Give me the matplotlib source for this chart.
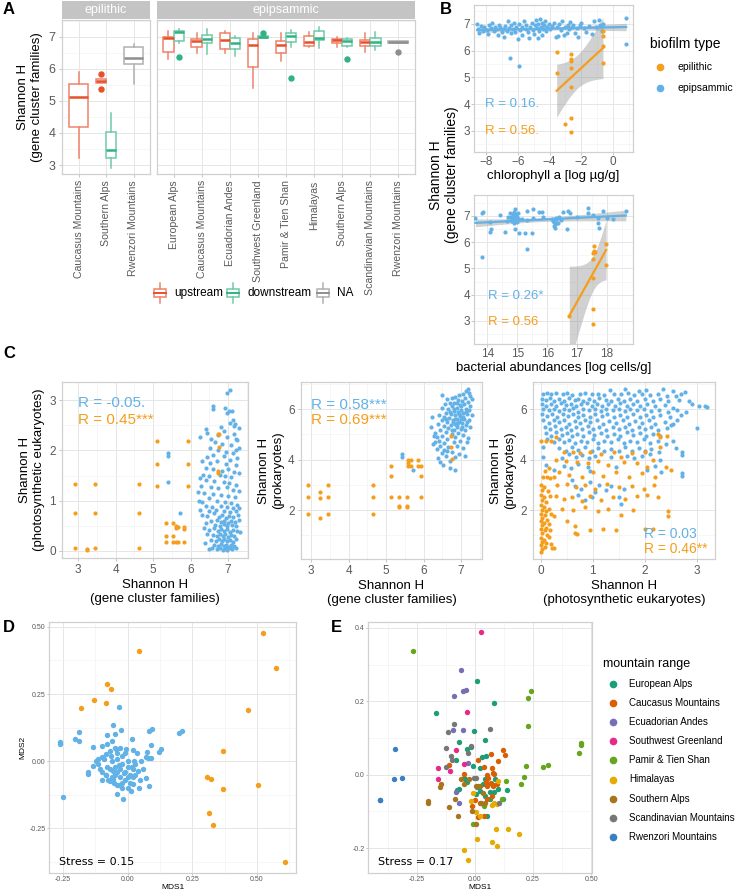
import numpy as np
import matplotlib
matplotlib.use("Agg")
import matplotlib.pyplot as plt
from matplotlib.lines import Line2D
from matplotlib.patches import Rectangle
from matplotlib.ticker import MultipleLocator, FormatStrFormatter

plt.rcParams['font.family'] = ['Liberation Sans', 'DejaVu Sans']

# ---------------- data ----------------
# panel A: box stats (site, group, low whisker, q1, median, q3, high whisker, outliers)
epilithic_sites = ['Caucasus Mountains', 'Southern Alps', 'Rwenzori Mountains']
epipsammic_sites = ['European Alps', 'Caucasus Mountains', 'Ecuadorian Andes', 'Southwest Greenland',
                    'Pamir & Tien Shan', 'Himalayas', 'Southern Alps', 'Scandinavian Mountains',
                    'Rwenzori Mountains']
epilithic_boxes = [
    ('Caucasus Mountains', 'upstream', 3.23, 4.17, 5.13, 5.51, 5.91, []),
    ('Southern Alps', 'upstream', 5.57, 5.57, 5.62, 5.67, 5.67, [5.83, 5.36]),
    ('Southern Alps', 'downstream', 2.92, 3.21, 3.47, 4.04, 4.63, []),
    ('Rwenzori Mountains', 'NA', 5.52, 6.16, 6.35, 6.67, 6.77, []),
]
epipsammic_boxes = [
    ('European Alps', 'upstream', 6.32, 6.51, 6.95, 6.98, 7.18, []),
    ('European Alps', 'downstream', 6.79, 6.86, 7.14, 7.18, 7.23, [6.38]),
    ('Caucasus Mountains', 'upstream', 6.48, 6.69, 6.88, 6.93, 7.10, []),
    ('Caucasus Mountains', 'downstream', 6.45, 6.79, 6.93, 7.05, 7.24, []),
    ('Ecuadorian Andes', 'upstream', 6.48, 6.62, 6.90, 7.11, 7.19, []),
    ('Ecuadorian Andes', 'downstream', 6.40, 6.62, 6.79, 6.95, 7.03, []),
    ('Southwest Greenland', 'upstream', 5.41, 6.06, 6.74, 6.93, 7.10, []),
    ('Southwest Greenland', 'downstream', 6.95, 6.95, 6.98, 7.01, 7.01, [7.10]),
    ('Pamir & Tien Shan', 'upstream', 6.24, 6.48, 6.74, 6.88, 7.10, []),
    ('Pamir & Tien Shan', 'downstream', 6.69, 6.82, 7.03, 7.10, 7.21, [5.72]),
    ('Himalayas', 'upstream', 6.67, 6.72, 6.82, 7.03, 7.16, []),
    ('Himalayas', 'downstream', 6.66, 6.90, 6.97, 7.18, 7.31, []),
    ('Southern Alps', 'upstream', 6.69, 6.79, 6.90, 6.93, 7.00, []),
    ('Southern Alps', 'downstream', 6.67, 6.72, 6.88, 6.93, 6.95, [6.32]),
    ('Scandinavian Mountains', 'upstream', 6.53, 6.70, 6.82, 6.89, 7.10, []),
    ('Scandinavian Mountains', 'downstream', 6.59, 6.71, 6.83, 6.95, 7.14, []),
    ('Rwenzori Mountains', 'NA', 6.81, 6.81, 6.84, 6.87, 6.87, [6.53]),
]
stream_groups = ['upstream', 'downstream', 'NA']

# panel B top: chlorophyll a vs Shannon H
chl_epil = np.array([[-3.55, 5.94], [-3.55, 5.16], [-3.04, 3.26], [-2.68, 5.87], [-2.68, 5.69],
                     [-2.68, 5.62], [-2.68, 5.37], [-2.68, 4.66], [-2.68, 3.50], [-2.68, 2.95],
                     [-0.64, 6.75], [-0.64, 6.55], [-0.64, 6.19], [-0.64, 5.53]])
chl_epip = np.array([
    [-8.55, 7.00], [-8.50, 6.83], [-8.45, 6.68], [-8.30, 6.92], [-8.20, 6.75], [-8.10, 6.87],
    [-7.95, 6.78], [-7.85, 6.62], [-7.80, 6.95], [-7.70, 6.85], [-7.60, 7.05], [-7.50, 6.72],
    [-7.45, 6.90], [-7.35, 6.80], [-7.25, 6.60], [-7.20, 6.98], [-7.10, 6.88], [-7.00, 6.70],
    [-6.95, 6.82], [-6.85, 6.52], [-6.80, 6.93], [-6.70, 6.75], [-6.60, 7.10], [-6.55, 6.85],
    [-6.45, 6.65], [-6.40, 6.95], [-6.30, 6.80], [-6.25, 7.05], [-6.15, 6.70], [-6.10, 6.90],
    [-6.00, 6.45], [-5.95, 7.00], [-5.85, 6.78], [-5.75, 6.88], [-5.70, 6.60], [-5.60, 7.12],
    [-5.50, 6.82], [-5.45, 6.95], [-5.35, 6.70], [-5.30, 6.48], [-5.20, 6.90], [-5.10, 7.05],
    [-5.05, 6.78], [-4.95, 6.62], [-4.90, 6.95], [-4.85, 7.15], [-4.80, 6.85], [-4.75, 6.48],
    [-4.70, 7.00], [-4.65, 6.72], [-4.60, 7.18], [-4.55, 6.90], [-4.50, 6.60], [-4.45, 7.05],
    [-4.40, 6.82], [-4.35, 6.95], [-4.30, 7.10], [-4.20, 6.75], [-4.15, 6.88], [-4.05, 7.00],
    [-3.95, 6.80], [-3.85, 6.92], [-3.70, 7.05], [-3.60, 6.50], [-3.55, 6.88], [-3.45, 6.55],
    [-3.40, 7.00], [-3.30, 6.78], [-3.20, 7.12], [-3.10, 6.60], [-3.00, 6.90], [-2.90, 6.68],
    [-2.85, 6.98], [-2.75, 6.80], [-2.70, 7.08], [-2.60, 6.88], [-2.50, 6.95], [-2.40, 6.65],
    [-2.30, 6.85], [-2.20, 6.50], [-2.10, 6.95], [-2.00, 7.02], [-1.85, 6.85], [-1.70, 6.70],
    [-1.50, 6.92], [-1.35, 6.62], [-1.20, 7.10], [-1.05, 6.88], [-0.90, 7.15], [-0.80, 6.95],
    [-0.70, 6.72], [-0.65, 7.00], [-6.49, 5.74], [-5.95, 5.44], [0.82, 6.26], [0.82, 7.24]])

# panel B bottom: bacterial abundance vs Shannon H
bac_epil = np.array([[17.58, 5.87], [17.58, 5.67], [17.52, 5.58], [17.52, 5.36], [17.52, 4.63],
                     [17.52, 3.45], [17.52, 2.89], [17.60, 5.62], [17.97, 5.93], [17.97, 5.13],
                     [16.74, 3.20]])
bac_epip = np.array([
    [13.60, 6.92], [13.82, 7.10], [13.86, 7.14], [13.83, 5.43], [14.10, 6.78], [14.10, 6.40],
    [14.13, 6.49], [14.43, 7.04], [14.58, 6.40], [14.66, 6.81], [14.77, 7.10], [14.82, 6.97],
    [14.88, 7.17], [14.93, 7.25], [14.97, 7.06], [14.99, 6.78], [14.91, 6.49], [15.07, 6.37],
    [15.27, 6.34], [15.49, 6.37], [15.32, 5.73], [15.32, 7.19], [15.51, 7.27], [15.71, 7.14],
    [15.82, 7.17], [15.32, 6.85], [15.54, 6.91], [15.86, 6.97], [16.16, 6.87], [16.21, 6.78],
    [16.27, 6.53], [16.32, 6.72], [16.38, 6.95], [16.54, 7.17], [16.68, 7.20], [16.77, 7.13],
    [16.66, 6.49], [16.99, 6.95], [17.38, 7.29], [17.38, 7.13], [17.54, 7.04], [17.71, 6.91],
    [17.71, 6.72], [17.73, 6.53], [17.88, 7.20], [17.99, 6.91], [18.21, 6.87], [18.63, 7.20],
    [14.80, 6.95], [14.85, 6.90], [14.88, 7.00], [14.90, 6.85], [14.92, 6.92], [14.95, 7.02],
    [14.97, 6.88], [15.00, 6.95], [14.83, 6.80], [14.90, 6.75], [14.95, 6.80], [15.02, 7.10],
    [14.78, 6.85], [15.05, 6.90], [14.86, 7.08], [16.20, 6.82], [16.25, 6.70], [16.30, 6.88],
    [16.35, 6.75], [16.22, 6.60], [16.28, 6.92], [14.70, 6.95], [15.15, 6.88], [16.45, 6.85]])

# panel C1: gene cluster H vs photosynthetic eukaryote H
c1_epil = np.array([
    [2.92, 1.33], [2.92, 0.75], [2.92, 0.05], [3.45, 1.33], [3.45, 0.75], [3.45, 0.05],
    [3.23, 0.03], [3.23, 0.01], [4.63, 1.33], [4.63, 0.75], [4.63, 0.05], [5.11, 2.19],
    [5.11, 1.73], [5.11, 1.30], [5.92, 2.19], [5.92, 1.73], [5.92, 1.30], [5.34, 0.55],
    [5.34, 0.29], [5.34, 0.17], [5.54, 0.55], [5.54, 0.29], [5.54, 0.17], [5.66, 0.47],
    [5.60, 0.45], [5.62, 0.50], [5.66, 0.17], [5.60, 0.17], [5.83, 0.47], [5.83, 0.43],
    [5.83, 0.17], [6.74, 2.33], [6.77, 2.33], [6.76, 2.06], [6.74, 1.60], [6.72, 1.55]])
c1_epip = np.array([
    [7.05, 3.21], [6.96, 3.14], [6.61, 2.88], [6.61, 2.83], [6.92, 2.84], [7.10, 2.78],
    [7.02, 2.79], [6.98, 2.74], [7.18, 2.52], [7.12, 2.60], [7.05, 2.54], [7.28, 2.44],
    [7.15, 2.48], [6.40, 2.42], [6.45, 2.35], [6.74, 2.31], [7.17, 2.33], [6.90, 2.38],
    [6.82, 2.47], [7.20, 2.22], [6.25, 2.27], [7.23, 2.21], [6.55, 2.23], [6.98, 2.27],
    [6.66, 2.16], [6.85, 2.13], [7.08, 2.10], [7.30, 2.05], [7.20, 2.00], [6.52, 2.05],
    [6.72, 2.00], [6.95, 1.97], [7.12, 1.95], [6.60, 1.90], [6.44, 1.86], [6.88, 1.88],
    [7.25, 1.85], [6.30, 1.78], [6.52, 1.75], [6.70, 1.78], [6.95, 1.72], [7.05, 1.80],
    [7.22, 1.70], [6.40, 1.65], [6.60, 1.62], [6.85, 1.60], [7.00, 1.63], [7.15, 1.58],
    [7.30, 1.55], [6.33, 1.52], [6.50, 1.50], [6.78, 1.52], [6.93, 1.50], [7.08, 1.48],
    [6.25, 1.45], [6.42, 1.42], [6.63, 1.40], [6.88, 1.38], [7.02, 1.35], [7.20, 1.32],
    [6.28, 1.30], [6.55, 1.28], [6.74, 1.25], [6.96, 1.27], [7.12, 1.22], [7.28, 1.20],
    [6.20, 1.18], [6.36, 1.15], [6.60, 1.13], [6.82, 1.12], [7.00, 1.10], [7.18, 1.08],
    [6.48, 1.05], [6.22, 1.00], [6.30, 0.98], [6.70, 1.00], [6.92, 0.98], [7.08, 0.95],
    [7.25, 0.92], [6.40, 0.90], [6.58, 0.88], [6.80, 0.90], [6.98, 0.87], [7.14, 0.85],
    [7.30, 0.86], [6.26, 0.82], [6.50, 0.80], [6.68, 0.82], [6.90, 0.80], [7.05, 0.78],
    [7.20, 0.80], [6.30, 0.72], [6.45, 0.70], [6.62, 0.75], [6.75, 0.68], [6.85, 0.72],
    [6.95, 0.66], [7.02, 0.70], [7.12, 0.68], [7.26, 0.72], [6.55, 0.60], [6.70, 0.62],
    [6.80, 0.58], [6.90, 0.60], [7.00, 0.56], [7.08, 0.60], [7.18, 0.57], [7.30, 0.62],
    [6.42, 0.55], [6.65, 0.52], [6.78, 0.50], [6.88, 0.53], [6.98, 0.50], [7.10, 0.52],
    [7.22, 0.50], [6.35, 0.45], [6.50, 0.42], [6.62, 0.45], [6.72, 0.40], [6.82, 0.44],
    [6.90, 0.40], [6.96, 0.43], [7.04, 0.38], [7.14, 0.42], [7.25, 0.40], [7.33, 0.38],
    [6.45, 0.33], [6.60, 0.32], [6.70, 0.30], [6.78, 0.34], [6.86, 0.30], [6.93, 0.33],
    [7.00, 0.28], [7.07, 0.32], [7.16, 0.30], [6.55, 0.22], [6.68, 0.20], [6.76, 0.24],
    [6.84, 0.20], [6.90, 0.23], [6.97, 0.19], [7.05, 0.22], [7.12, 0.18], [7.20, 0.24],
    [6.38, 0.15], [6.62, 0.12], [6.72, 0.10], [6.80, 0.13], [6.88, 0.09], [6.94, 0.12],
    [7.00, 0.08], [7.08, 0.11], [7.16, 0.10], [6.58, 0.05], [6.70, 0.03], [6.78, 0.06],
    [6.86, 0.02], [6.92, 0.05], [6.98, 0.02], [7.04, 0.05], [7.10, 0.03], [6.50, 0.04],
    [7.22, 0.06], [5.41, 1.94], [5.41, 1.88], [5.41, 1.38], [5.72, 0.75]])

# panel C2: gene cluster H vs prokaryote H
c2_epil = np.array([
    [2.93, 2.98], [2.93, 2.52], [2.93, 1.83], [3.24, 2.72], [3.24, 2.46], [3.24, 1.70],
    [3.46, 2.98], [3.46, 2.52], [3.46, 1.83], [4.64, 2.98], [4.64, 2.52], [4.64, 1.83],
    [5.12, 3.74], [5.12, 3.35], [5.12, 2.50], [5.35, 2.50], [5.35, 2.16], [5.35, 2.10],
    [5.55, 2.50], [5.55, 2.16], [5.55, 2.10], [5.59, 4.00], [5.59, 3.87], [5.59, 3.75],
    [5.67, 4.00], [5.67, 3.75], [5.84, 4.00], [5.84, 3.75], [5.93, 3.74], [5.93, 3.35],
    [5.93, 2.50], [6.73, 4.50], [6.77, 4.04], [6.73, 4.95]])
c2_epip = np.array([
    [7.18, 6.78], [7.12, 6.72], [7.22, 6.65], [6.48, 6.56], [7.05, 6.60], [6.95, 6.55],
    [7.25, 6.50], [6.85, 6.48], [7.10, 6.45], [6.75, 6.42], [7.30, 6.40], [6.62, 6.38],
    [6.92, 6.35], [7.02, 6.30], [7.18, 6.28], [6.70, 6.25], [6.82, 6.22], [7.08, 6.20],
    [6.58, 6.18], [6.98, 6.15], [7.25, 6.12], [6.75, 6.10], [6.88, 6.05], [7.12, 6.02],
    [6.50, 6.05], [6.65, 6.00], [7.00, 5.98], [7.22, 5.95], [6.80, 5.92], [6.93, 5.90],
    [7.05, 5.85], [6.60, 5.85], [6.72, 5.80], [7.15, 5.80], [6.42, 5.78], [6.85, 5.75],
    [6.98, 5.72], [7.30, 5.75], [6.55, 5.70], [6.22, 5.70], [6.68, 5.65], [6.90, 5.62],
    [7.08, 5.62], [6.78, 5.58], [7.20, 5.55], [6.48, 5.55], [6.62, 5.50], [6.95, 5.50],
    [7.02, 5.45], [6.85, 5.42], [6.72, 5.38], [7.12, 5.38], [6.38, 5.40], [6.55, 5.32],
    [6.90, 5.30], [7.25, 5.30], [6.65, 5.25], [7.00, 5.22], [6.80, 5.18], [6.45, 5.15],
    [7.10, 5.15], [6.30, 5.05], [6.60, 5.08], [6.92, 5.05], [6.75, 5.00], [7.05, 4.98],
    [6.50, 4.95], [6.85, 4.90], [6.36, 4.88], [7.18, 4.85], [6.62, 4.82], [6.42, 4.75],
    [6.98, 4.75], [6.30, 4.70], [6.55, 4.65], [6.80, 4.68], [7.15, 4.70], [6.25, 4.60],
    [6.45, 4.55], [6.65, 4.50], [6.90, 4.52], [7.05, 4.45], [6.35, 4.42], [6.55, 4.38],
    [6.75, 4.30], [6.48, 4.25], [6.95, 4.20], [7.10, 4.15], [6.60, 4.12], [6.38, 4.05],
    [6.85, 4.08], [6.70, 3.95], [6.45, 3.90], [6.52, 3.78], [6.71, 3.65], [6.84, 3.58],
    [6.62, 4.35], [6.28, 4.95], [6.20, 5.30], [6.85, 5.60], [6.90, 5.45], [7.00, 5.60],
    [6.95, 5.80], [7.05, 5.70], [6.78, 5.50], [6.88, 5.35], [7.15, 5.50], [6.70, 5.90],
    [6.82, 6.00], [7.00, 6.10], [6.90, 6.25], [7.12, 5.90], [6.60, 5.60], [6.75, 5.15],
    [7.02, 5.30], [5.42, 4.21], [5.42, 4.08], [5.71, 3.60]])

# panel C3: photosynthetic eukaryote H vs prokaryote H
c3_epil = np.array([
    [0.00, 3.00], [0.02, 2.80], [0.00, 2.60], [0.03, 2.40], [0.00, 2.20], [0.02, 2.00],
    [0.00, 1.85], [0.03, 1.70], [0.00, 1.55], [0.02, 1.40], [0.00, 1.25], [0.03, 1.10],
    [0.00, 0.90], [0.02, 0.75], [0.00, 0.60], [0.03, 0.45], [0.00, 0.35], [0.06, 2.90],
    [0.07, 2.50], [0.06, 2.10], [0.08, 1.80], [0.06, 1.50], [0.08, 1.20], [0.06, 0.80],
    [0.08, 0.55], [0.10, 2.30], [0.10, 1.95], [0.12, 1.60], [0.10, 1.30], [0.12, 1.00],
    [0.10, 0.70], [0.14, 2.75], [0.15, 2.05], [0.16, 1.45], [0.15, 0.95], [0.18, 2.55],
    [0.20, 1.85], [0.18, 1.20], [0.20, 0.65], [0.22, 0.50], [0.05, 3.30], [0.12, 3.30],
    [0.18, 3.25], [0.08, 3.55], [0.15, 3.65], [0.25, 3.30], [0.00, 4.72], [0.10, 4.75],
    [0.20, 4.72], [0.30, 4.90], [0.45, 4.30], [0.62, 4.30], [0.75, 4.25], [0.95, 4.30],
    [1.15, 4.20], [1.40, 4.30], [1.55, 4.10], [1.75, 4.25], [2.00, 4.30], [2.15, 4.00],
    [2.30, 4.90], [2.42, 4.95], [2.25, 5.00], [2.30, 4.50], [0.30, 4.00], [0.48, 3.95],
    [0.70, 3.90], [0.90, 3.85], [1.10, 3.95], [1.30, 3.80], [1.60, 3.90], [1.85, 3.85],
    [2.05, 3.70], [2.40, 3.70], [2.50, 3.60], [0.35, 3.50], [0.55, 3.40], [0.80, 3.30],
    [1.00, 3.50], [1.20, 3.35], [1.45, 3.50], [1.70, 3.30], [1.95, 3.45], [2.20, 3.30],
    [0.32, 3.00], [0.50, 3.05], [0.68, 2.90], [0.85, 3.00], [1.05, 2.85], [1.28, 3.05],
    [1.50, 2.90], [1.75, 2.95], [1.98, 2.85], [2.18, 3.00], [0.30, 2.55], [0.45, 2.45],
    [0.60, 2.50], [0.80, 2.35], [0.95, 2.55], [1.15, 2.40], [1.38, 2.50], [1.62, 2.45],
    [1.85, 2.55], [2.05, 2.60], [2.25, 2.50], [0.40, 2.05], [0.62, 2.00], [0.85, 2.10],
    [1.10, 1.95], [1.30, 2.05], [1.55, 1.80], [1.78, 2.00], [2.45, 1.95], [2.45, 1.75],
    [0.25, 1.75], [0.50, 1.55], [0.65, 1.35], [0.95, 1.20], [1.20, 1.25], [1.45, 1.20],
    [0.65, 1.10], [2.00, 1.25], [2.15, 1.25], [0.25, 0.50], [0.70, 1.05]])
c3_epip = np.array([
    [1.33, 6.75], [1.62, 6.78], [1.88, 6.72], [2.02, 6.76], [2.35, 6.80], [2.55, 6.72],
    [2.78, 6.68], [0.05, 6.60], [0.12, 6.62], [0.20, 6.58], [0.30, 6.63], [0.42, 6.60],
    [0.50, 6.62], [0.60, 6.57], [0.75, 6.60], [0.85, 6.62], [0.98, 6.58], [1.10, 6.60],
    [1.22, 6.55], [1.40, 6.60], [1.55, 6.58], [1.68, 6.62], [1.80, 6.55], [1.95, 6.60],
    [2.10, 6.55], [2.25, 6.60], [2.42, 6.52], [2.60, 6.50], [2.70, 6.58], [0.03, 6.40],
    [0.10, 6.35], [0.18, 6.42], [0.25, 6.30], [0.35, 6.38], [0.45, 6.32], [0.55, 6.42],
    [0.65, 6.35], [0.72, 6.40], [0.82, 6.30], [0.92, 6.38], [1.02, 6.33], [1.12, 6.42],
    [1.25, 6.35], [1.35, 6.30], [1.48, 6.40], [1.60, 6.32], [1.72, 6.38], [1.85, 6.30],
    [2.00, 6.40], [2.15, 6.32], [2.30, 6.40], [2.45, 6.30], [2.65, 6.35], [2.85, 6.30],
    [0.02, 6.20], [0.10, 6.12], [0.20, 6.18], [0.30, 6.10], [0.38, 6.22], [0.48, 6.15],
    [0.58, 6.20], [0.68, 6.10], [0.78, 6.18], [0.88, 6.22], [0.98, 6.12], [1.08, 6.20],
    [1.18, 6.10], [1.30, 6.18], [1.42, 6.12], [1.52, 6.22], [1.65, 6.10], [1.78, 6.20],
    [1.90, 6.12], [2.05, 6.18], [2.20, 6.10], [2.38, 6.15], [2.55, 6.05], [2.90, 6.18],
    [3.05, 6.10], [3.20, 6.08], [3.15, 6.12], [0.05, 6.00], [0.15, 5.95], [0.25, 6.02],
    [0.35, 5.92], [0.45, 6.00], [0.55, 5.95], [0.62, 6.05], [0.72, 5.90], [0.82, 6.00],
    [0.92, 5.95], [1.05, 6.02], [1.15, 5.92], [1.25, 6.00], [1.38, 5.95], [1.50, 6.02],
    [1.62, 5.92], [1.72, 6.00], [1.85, 5.95], [1.98, 6.02], [2.12, 5.92], [2.28, 5.98],
    [2.45, 5.90], [2.62, 5.95], [2.80, 5.90], [0.03, 5.80], [0.12, 5.72], [0.22, 5.80],
    [0.32, 5.70], [0.42, 5.82], [0.52, 5.72], [0.62, 5.80], [0.72, 5.68], [0.82, 5.78],
    [0.95, 5.70], [1.05, 5.82], [1.18, 5.72], [1.28, 5.80], [1.40, 5.68], [1.52, 5.78],
    [1.65, 5.70], [1.78, 5.80], [1.90, 5.70], [2.02, 5.78], [2.15, 5.68], [2.30, 5.75],
    [2.48, 5.70], [2.70, 5.75], [2.62, 5.55], [0.05, 5.55], [0.15, 5.45], [0.25, 5.58],
    [0.35, 5.48], [0.45, 5.55], [0.55, 5.42], [0.65, 5.52], [0.75, 5.45], [0.85, 5.58],
    [0.95, 5.48], [1.08, 5.55], [1.20, 5.42], [1.32, 5.52], [1.45, 5.45], [1.58, 5.55],
    [1.70, 5.42], [1.82, 5.52], [1.95, 5.45], [2.08, 5.55], [2.20, 5.42], [2.38, 5.50],
    [2.55, 5.40], [0.08, 5.30], [0.18, 5.20], [0.28, 5.32], [0.38, 5.22], [0.48, 5.30],
    [0.58, 5.18], [0.68, 5.28], [0.80, 5.20], [0.90, 5.32], [1.00, 5.22], [1.12, 5.30],
    [1.25, 5.18], [1.38, 5.28], [1.50, 5.20], [1.62, 5.30], [1.75, 5.18], [1.88, 5.28],
    [2.00, 5.20], [2.12, 5.30], [2.25, 5.18], [2.42, 5.25], [3.00, 5.25], [2.50, 5.35],
    [0.10, 5.05], [0.20, 4.95], [0.30, 5.08], [0.40, 4.98], [0.50, 5.05], [0.60, 4.92],
    [0.70, 5.02], [0.82, 4.95], [0.92, 5.08], [1.02, 4.98], [1.15, 5.05], [1.28, 4.92],
    [1.40, 5.02], [1.52, 4.95], [1.65, 5.08], [1.78, 4.98], [1.90, 5.05], [2.02, 4.92],
    [2.15, 5.02], [2.30, 4.95], [2.55, 4.75], [0.12, 4.80], [0.25, 4.70], [0.35, 4.82],
    [0.45, 4.68], [0.55, 4.78], [0.65, 4.65], [0.78, 4.75], [0.88, 4.68], [1.00, 4.80],
    [1.10, 4.65], [1.22, 4.75], [1.35, 4.68], [1.48, 4.80], [1.60, 4.65], [1.72, 4.75],
    [1.85, 4.68], [1.98, 4.80], [2.10, 4.65], [2.25, 4.72], [2.40, 4.60], [2.60, 4.45],
    [0.05, 4.50], [0.35, 4.45], [0.48, 4.35], [0.60, 4.50], [0.72, 4.38], [0.85, 4.48],
    [0.98, 4.35], [1.10, 4.45], [1.22, 4.32], [1.35, 4.42], [1.50, 4.35], [1.62, 4.48],
    [1.75, 4.35], [1.88, 4.45], [2.00, 4.32], [2.12, 4.42], [2.28, 4.30], [2.72, 4.30],
    [2.72, 4.18], [0.05, 4.10], [0.40, 4.05], [0.55, 4.20], [0.68, 4.08], [0.80, 4.18],
    [0.92, 4.05], [1.05, 4.15], [1.35, 4.10], [1.65, 4.15], [1.80, 4.05], [1.95, 4.12],
    [2.10, 4.20], [2.30, 4.00], [0.10, 3.80], [0.25, 3.60], [0.45, 3.75], [0.58, 3.65],
    [0.72, 3.82], [0.90, 3.70], [0.95, 3.55], [1.45, 3.70], [2.05, 3.60], [2.32, 3.50],
    [2.72, 3.45], [2.72, 3.35], [2.20, 3.75], [0.60, 3.20], [0.65, 2.95], [0.72, 2.60],
    [0.85, 2.40], [0.98, 2.50], [1.12, 3.00], [1.25, 2.80], [1.50, 2.50], [1.55, 2.25],
    [1.60, 2.85], [0.78, 2.85], [1.05, 2.70], [1.35, 2.95], [0.95, 3.10]])

# panel D: NMDS by biofilm type
d_epil = np.array([
    [0.045, 0.409], [-0.079, 0.288], [-0.063, 0.270], [-0.129, 0.227], [-0.084, 0.217],
    [-0.179, 0.198], [0.524, 0.477], [0.572, 0.345], [0.465, 0.190], [0.370, 0.039],
    [0.305, -0.057], [0.322, -0.065], [0.367, -0.103], [0.504, -0.090], [0.313, -0.192],
    [0.329, -0.236], [0.608, -0.374]])
d_epip = np.array([
    [-0.033, 0.202], [-0.026, 0.117], [-0.058, 0.135], [-0.049, 0.101], [-0.079, 0.097],
    [0.084, 0.113], [0.094, 0.121], [0.200, 0.105], [0.209, 0.113], [0.017, 0.081],
    [0.091, 0.060], [0.129, 0.046], [0.123, 0.036], [-0.134, 0.052], [-0.204, 0.083],
    [-0.187, 0.107], [-0.187, 0.074], [-0.262, 0.070], [-0.262, 0.064], [-0.152, -0.041],
    [-0.152, -0.047], [-0.249, -0.133], [-0.017, -0.139], [-0.040, -0.123], [0.012, -0.111],
    [0.045, -0.100], [0.084, -0.094], [0.071, -0.063], [0.048, -0.071], [0.019, -0.084],
    [-0.008, 0.047], [0.035, 0.030], [0.070, 0.015], [0.090, 0.011], [0.080, 0.012],
    [0.073, 0.033], [-0.100, 0.015], [-0.107, -0.028], [-0.116, -0.010], [-0.098, -0.071],
    [-0.075, -0.071], [-0.084, -0.053], [-0.053, -0.080], [-0.040, -0.090], [-0.055, -0.065],
    [-0.133, -0.016], [-0.122, 0.002], [-0.113, 0.009], [-0.100, 0.058], [-0.084, 0.025],
    [-0.079, 0.064], [-0.062, 0.076], [-0.045, 0.046], [-0.068, 0.039], [-0.060, 0.000],
    [-0.050, -0.020], [-0.040, 0.010], [-0.030, -0.030], [-0.020, -0.010], [-0.010, -0.040],
    [0.000, -0.020], [0.010, -0.050], [0.020, -0.030], [0.030, -0.010], [-0.070, -0.030],
    [-0.050, -0.050], [-0.030, -0.060], [-0.010, -0.070], [0.010, -0.080], [0.020, -0.060],
    [0.000, 0.000], [-0.020, 0.020], [-0.040, -0.040], [-0.060, -0.060], [-0.080, -0.020],
    [0.025, 0.000], [0.030, -0.050], [-0.020, -0.080], [-0.040, 0.030], [-0.065, 0.020],
    [-0.090, 0.010], [0.000, -0.060], [-0.015, -0.045], [0.015, -0.020], [-0.035, -0.015],
    [-0.055, -0.035], [0.040, -0.035], [-0.100, -0.040], [-0.085, -0.050], [0.050, 0.000],
    [0.060, -0.030], [-0.030, 0.050], [-0.010, 0.030], [0.020, 0.040], [-0.050, 0.050],
    [-0.020, -0.100], [0.000, -0.100], [-0.035, -0.090], [-0.070, -0.075]])

# panel E: NMDS by mountain range
e_european_alps = np.array([
    [0.007, 0.255], [0.082, 0.194], [-0.167, 0.168], [-0.003, 0.119], [0.043, 0.094],
    [-0.068, 0.088], [-0.034, 0.070], [-0.019, 0.076], [0.029, 0.049], [0.047, 0.052],
    [-0.082, 0.039], [-0.009, 0.024], [0.022, 0.018], [-0.046, -0.008], [-0.043, -0.013],
    [0.043, -0.013], [0.057, -0.026], [0.079, -0.028], [0.065, -0.047], [0.082, -0.047],
    [0.101, -0.040], [0.136, -0.041], [-0.076, -0.041], [-0.068, -0.040], [0.010, -0.035],
    [0.022, -0.044], [0.004, -0.053], [0.043, -0.058], [0.122, -0.065], [0.065, -0.067],
    [0.053, -0.114], [0.036, -0.026], [0.086, -0.013], [-0.033, -0.020]])
e_caucasus = np.array([
    [0.119, 0.067], [0.128, 0.054], [0.069, 0.055], [0.098, 0.037], [0.014, 0.040],
    [0.040, 0.021], [0.072, 0.019], [0.079, 0.005], [0.082, 0.001], [0.050, -0.002],
    [0.057, -0.008], [0.046, -0.020], [0.093, -0.026], [0.068, -0.022], [0.079, -0.032],
    [-0.047, 0.001], [-0.111, 0.026], [0.001, -0.068], [0.022, -0.076], [-0.014, -0.086],
    [0.053, -0.067], [0.075, -0.058], [0.011, -0.116], [0.039, -0.112], [0.050, -0.031]])
e_ecuadorian = np.array([
    [-0.059, 0.286], [-0.053, 0.228], [-0.039, 0.231], [-0.089, 0.213], [-0.096, 0.123],
    [-0.050, 0.123], [-0.030, 0.032], [-0.082, -0.047], [-0.070, -0.077]])
e_greenland = np.array([
    [0.027, 0.388], [-0.036, 0.170], [-0.082, 0.066], [-0.046, 0.028], [-0.159, 0.019],
    [-0.109, 0.010], [-0.159, -0.013]])
e_pamir = np.array([
    [-0.267, 0.336], [0.240, 0.227], [0.227, 0.208], [0.227, 0.133], [0.458, 0.086],
    [0.458, 0.082], [0.448, 0.058], [0.221, 0.024], [0.316, 0.027], [0.293, 0.022],
    [0.213, -0.006], [0.197, -0.025], [0.135, -0.018], [0.116, -0.065], [0.037, -0.086],
    [-0.010, -0.134]])
e_himalayas = np.array([
    [0.101, -0.018], [0.083, -0.078], [0.072, -0.083], [0.096, -0.079], [-0.019, -0.073],
    [0.003, -0.101], [0.022, -0.112], [0.091, -0.148], [0.144, -0.148], [0.188, -0.162],
    [0.007, -0.176], [0.075, -0.184], [0.093, -0.194], [-0.046, -0.205], [-0.032, -0.233],
    [-0.007, -0.049]])
e_southern_alps = np.array([
    [-0.059, -0.011], [-0.024, -0.012], [-0.046, -0.026], [0.003, -0.032], [0.014, -0.032],
    [-0.148, -0.025], [-0.151, -0.034], [-0.204, -0.071], [-0.204, -0.077], [-0.111, -0.089],
    [-0.086, -0.065], [-0.072, -0.114], [-0.014, -0.100], [0.004, -0.134], [0.043, -0.076],
    [0.026, -0.076], [0.022, -0.032], [0.036, -0.049]])
e_scandinavian = np.array([
    [-0.089, 0.137], [-0.116, 0.117], [0.063, 0.125], [-0.126, 0.073], [-0.105, 0.050],
    [-0.019, 0.077], [-0.030, 0.059], [-0.099, 0.041], [-0.126, 0.021], [0.004, -0.008],
    [0.103, -0.078], [-0.004, -0.008]])
e_rwenzori = np.array([
    [-0.346, 0.071], [-0.348, -0.013], [-0.316, -0.008], [-0.409, -0.068], [-0.408, -0.070]])

mountain_names = ['European Alps', 'Caucasus Mountains', 'Ecuadorian Andes', 'Southwest Greenland',
                  'Pamir & Tien Shan', 'Himalayas', 'Southern Alps', 'Scandinavian Mountains',
                  'Rwenzori Mountains']
mountain_points = [e_european_alps, e_caucasus, e_ecuadorian, e_greenland, e_pamir,
                   e_himalayas, e_southern_alps, e_scandinavian, e_rwenzori]

# ---------------- styling ----------------
ORANGE = '#F59E1C'
BLUE = '#62B1E7'
stream_colors = {'upstream': '#E6502B', 'downstream': '#31B283', 'NA': '#8E8E8E'}
mountain_colors = ['#1B9E77', '#D95F02', '#7570B3', '#E7298A', '#66A61E',
                   '#E6AB02', '#A6761D', '#777777', '#3A7FC2']
TICK_C = '#5A5A5A'

W, H = 735, 894
fig = plt.figure(figsize=(W / 100, H / 100), dpi=100)


def px_axes(x0, y0, x1, y1):
    return fig.add_axes([x0 / W, 1 - y1 / H, (x1 - x0) / W, (y1 - y0) / H])


def fpos(x, y):
    return x / W, 1 - y / H


def style(ax, xmaj=None, xmin=None, ymaj=None, ymin=None, size=8.5, tlen=2.5, tpad=2):
    ax.set_facecolor('white')
    for s in ax.spines.values():
        s.set_color('#D0D0D0')
        s.set_linewidth(0.9)
    if xmaj:
        ax.xaxis.set_major_locator(MultipleLocator(xmaj))
    if xmin:
        ax.xaxis.set_minor_locator(MultipleLocator(xmin))
    if ymaj:
        ax.yaxis.set_major_locator(MultipleLocator(ymaj))
    if ymin:
        ax.yaxis.set_minor_locator(MultipleLocator(ymin))
    ax.grid(True, which='major', color='#E6E6E6', lw=0.7)
    ax.grid(True, which='minor', color='#F2F2F2', lw=0.45)
    ax.set_axisbelow(True)
    ax.tick_params(which='major', length=tlen, width=0.6, color='#BBBBBB',
                   labelcolor=TICK_C, labelsize=size, pad=tpad)
    ax.tick_params(which='minor', length=0)


def lighten(c, f):
    r, g, b = matplotlib.colors.to_rgb(c)
    return (r + (1 - r) * f, g + (1 - g) * f, b + (1 - b) * f)


def add_fit(ax, pts, color):
    x, y = pts[:, 0], pts[:, 1]
    b, a = np.polyfit(x, y, 1)
    xs = np.linspace(x.min(), x.max(), 100)
    yhat = a + b * xs
    n = len(x)
    s = np.sqrt(np.sum((y - (a + b * x)) ** 2) / (n - 2))
    se = s * np.sqrt(1 / n + (xs - x.mean()) ** 2 / np.sum((x - x.mean()) ** 2))
    t = 1.96 + 2.5 / (n - 2)
    ax.fill_between(xs, yhat - t * se, yhat + t * se, color='#9A9A9A', alpha=0.45, lw=0, zorder=2)
    ax.plot(xs, yhat, color=color, lw=1.6, zorder=4)


# ---------------- panel A ----------------
def draw_boxes(ax, sites, boxes):
    for i, site in enumerate(sites):
        rows = [b for b in boxes if b[0] == site]
        for j, (s, grp, lo, q1, med, q3, hi, out) in enumerate(rows):
            if len(rows) == 1:
                pos, w = i + 1, 0.72
            else:
                pos, w = i + 1 + (j - 0.5) * 0.38, 0.36
            c = stream_colors[grp]
            lc = lighten(c, 0.3)
            ax.bxp([dict(med=med, q1=q1, q3=q3, whislo=lo, whishi=hi, fliers=out)],
                   positions=[pos], widths=w, showcaps=False, patch_artist=True,
                   boxprops=dict(facecolor='white', edgecolor=lc, lw=1.1),
                   whiskerprops=dict(color=lc, lw=1.1),
                   medianprops=dict(color=c, lw=1.8),
                   flierprops=dict(marker='o', markerfacecolor=c, markeredgecolor=c, markersize=3.6))
    ax.set_xlim(0.4, len(sites) + 0.6)
    ax.set_ylim(2.72, 7.52)
    ax.set_xticks(range(1, len(sites) + 1))
    ax.set_xticklabels(sites, rotation=90, fontsize=7.6)


axA1 = px_axes(62, 20, 150, 174)
axA2 = px_axes(157, 20, 415, 174)
for ax, sites, boxes, lab in [(axA1, epilithic_sites, epilithic_boxes, 'epilithic'),
                              (axA2, epipsammic_sites, epipsammic_boxes, 'epipsammic')]:
    style(ax, ymaj=1, ymin=0.5, size=9)
    draw_boxes(ax, sites, boxes)
    ax.grid(True, which='major', axis='x', color='#E6E6E6', lw=0.7)
    pos = ax.get_position()
    strip = fig.add_axes([pos.x0, pos.y1 + 1 / H, pos.width, 18 / H])
    strip.set_facecolor('#C4C4C4')
    strip.set_xticks([])
    strip.set_yticks([])
    for s in strip.spines.values():
        s.set_visible(False)
    strip.text(0.5, 0.5, lab, color='white', fontsize=9, ha='center', va='center')
axA2.set_yticklabels([])
axA2.tick_params(axis='y', length=0)
axA1.set_ylabel('Shannon H\n(gene cluster families)', fontsize=9.5, labelpad=4)

# legend for A
lx = [160, 233, 323]
for gx, grp, lab in zip(lx, stream_groups, ['upstream', 'downstream', 'NA']):
    c = lighten(stream_colors[grp], 0.3)
    x0, y0 = fpos(gx - 6, 297)
    fig.add_artist(Rectangle((x0, y0), 12 / W, 8 / H, transform=fig.transFigure,
                             facecolor='white', edgecolor=c, lw=1.1))
    fig.add_artist(Line2D([gx / W, gx / W], [1 - 303 / H, 1 - 297 / H], transform=fig.transFigure,
                          color=c, lw=1.1))
    fig.add_artist(Line2D([gx / W, gx / W], [1 - 289 / H, 1 - 283 / H], transform=fig.transFigure,
                          color=c, lw=1.1))
    fig.add_artist(Line2D([(gx - 6) / W, (gx + 6) / W], [1 - 293 / H, 1 - 293 / H],
                          transform=fig.transFigure, color=stream_colors[grp], lw=1.4))
    fig.text(*fpos(gx + 14, 293), lab, fontsize=8.5, va='center', ha='left')

# ---------------- panel B ----------------
axB1 = px_axes(474, 5, 633, 152)
style(axB1, xmaj=2, xmin=1, ymaj=1, ymin=0.5, tlen=2, tpad=1)
axB1.scatter(chl_epip[:, 0], chl_epip[:, 1], s=9, color=BLUE, lw=0, zorder=3)
axB1.scatter(chl_epil[:, 0], chl_epil[:, 1], s=9, color=ORANGE, lw=0, zorder=3)
add_fit(axB1, chl_epip, BLUE)
add_fit(axB1, chl_epil, ORANGE)
axB1.set_xlim(-8.75, 1.25)
axB1.set_ylim(2.21, 7.71)
axB1.set_xlabel('chlorophyll a [log µg/g]', fontsize=9.5, labelpad=1)
axB1.text(0.07, 0.327, 'R = 0.16.', color=BLUE, fontsize=9.5, transform=axB1.transAxes, va='center')
axB1.text(0.07, 0.143, 'R = 0.56.', color=ORANGE, fontsize=9.5, transform=axB1.transAxes, va='center')

axB2 = px_axes(474, 195, 633, 344)
style(axB2, xmaj=1, xmin=0.5, ymaj=1, ymin=0.5, tlen=2, tpad=1)
axB2.scatter(bac_epip[:, 0], bac_epip[:, 1], s=9, color=BLUE, lw=0, zorder=3)
axB2.scatter(bac_epil[:, 0], bac_epil[:, 1], s=9, color=ORANGE, lw=0, zorder=3)
add_fit(axB2, bac_epip, BLUE)
add_fit(axB2, bac_epil, ORANGE)
axB2.set_xlim(13.55, 18.87)
axB2.set_ylim(2.12, 7.8)
axB2.set_xlabel('bacterial abundances [log cells/g]', fontsize=9.5, labelpad=1)
axB2.text(0.09, 0.32, 'R = 0.26*', color=BLUE, fontsize=9.5, transform=axB2.transAxes, va='center')
axB2.text(0.09, 0.148, 'R = 0.56', color=ORANGE, fontsize=9.5, transform=axB2.transAxes, va='center')
fig.text(*fpos(444, 175), 'Shannon H\n(gene cluster families)', rotation=90, fontsize=10,
         ha='center', va='center', multialignment='center')

# biofilm legend
fig.text(*fpos(650, 44), 'biofilm type', fontsize=10, va='center')
for yy, c, lab in [(67, ORANGE, 'epilithic'), (88, BLUE, 'epipsammic')]:
    fig.add_artist(Line2D([660 / W], [1 - yy / H], transform=fig.transFigure, marker='o',
                          markersize=4.5, color=c, lw=0))
    fig.text(*fpos(677, yy), lab, fontsize=7.5, va='center')

# ---------------- panel C ----------------
axC1 = px_axes(62, 382, 248, 558)
style(axC1, xmaj=1, xmin=0.5, ymaj=1, ymin=0.5)
axC1.scatter(c1_epip[:, 0], c1_epip[:, 1], s=9, color=BLUE, lw=0, zorder=3)
axC1.scatter(c1_epil[:, 0], c1_epil[:, 1], s=9, color=ORANGE, lw=0, zorder=3)
axC1.set_xlim(2.57, 7.53)
axC1.set_ylim(-0.14, 3.36)
axC1.set_xlabel('Shannon H\n(gene cluster families)', fontsize=9.5, labelpad=2)
axC1.set_ylabel('Shannon H\n(photosynthetic eukaryotes)', fontsize=9.5, labelpad=3)
axC1.text(0.086, 0.88, 'R = -0.05.', color=BLUE, fontsize=11, transform=axC1.transAxes, va='center')
axC1.text(0.086, 0.784, 'R = 0.45***', color=ORANGE, fontsize=11, transform=axC1.transAxes, va='center')

axC2 = px_axes(301, 382, 482, 559)
style(axC2, xmaj=1, xmin=0.5, ymaj=2, ymin=1)
axC2.scatter(c2_epip[:, 0], c2_epip[:, 1], s=9, color=BLUE, lw=0, zorder=3)
axC2.scatter(c2_epil[:, 0], c2_epil[:, 1], s=9, color=ORANGE, lw=0, zorder=3)
axC2.set_xlim(2.73, 7.56)
axC2.set_ylim(0.06, 7.07)
axC2.set_xlabel('Shannon H\n(gene cluster families)', fontsize=9.5, labelpad=2)
axC2.set_ylabel('Shannon H\n(prokaryotes)', fontsize=9.5, labelpad=3)
axC2.text(0.055, 0.87, 'R = 0.58***', color=BLUE, fontsize=11, transform=axC2.transAxes, va='center')
axC2.text(0.055, 0.785, 'R = 0.69***', color=ORANGE, fontsize=11, transform=axC2.transAxes, va='center')

axC3 = px_axes(533, 382, 715, 559)
style(axC3, xmaj=1, xmin=0.5, ymaj=2, ymin=1)
axC3.scatter(c3_epip[:, 0], c3_epip[:, 1], s=9, color=BLUE, lw=0, zorder=3)
axC3.scatter(c3_epil[:, 0], c3_epil[:, 1], s=9, color=ORANGE, lw=0, zorder=3)
axC3.set_xlim(-0.15, 3.35)
axC3.set_ylim(0.06, 7.07)
axC3.set_xlabel('Shannon H\n(photosynthetic eukaryotes)', fontsize=9.5, labelpad=2)
axC3.set_ylabel('Shannon H\n(prokaryotes)', fontsize=9.5, labelpad=3)
axC3.text(0.61, 0.14, 'R = 0.03', color=BLUE, fontsize=10, transform=axC3.transAxes, va='center')
axC3.text(0.61, 0.058, 'R = 0.46**', color=ORANGE, fontsize=10, transform=axC3.transAxes, va='center')

# ---------------- panel D ----------------
axD = px_axes(49, 622, 296, 873)
style(axD, xmaj=0.25, xmin=0.125, ymaj=0.25, ymin=0.125, size=5, tlen=1.5, tpad=1)
axD.scatter(d_epip[:, 0], d_epip[:, 1], s=15, color=BLUE, lw=0, zorder=3)
axD.scatter(d_epil[:, 0], d_epil[:, 1], s=15, color=ORANGE, lw=0, zorder=3)
axD.set_xlim(-0.304, 0.651)
axD.set_ylim(-0.416, 0.518)
axD.xaxis.set_major_formatter(FormatStrFormatter('%.2f'))
axD.yaxis.set_major_formatter(FormatStrFormatter('%.2f'))
axD.set_xlabel('MDS1', fontsize=6, labelpad=0.5)
axD.set_ylabel('MDS2', fontsize=6, labelpad=2)
axD.text(0.04, 0.045, 'Stress = 0.15', fontsize=8, family='DejaVu Sans',
         transform=axD.transAxes, va='center')

# ---------------- panel E ----------------
axE = px_axes(368, 622, 592, 873)
style(axE, xmaj=0.25, xmin=0.125, ymaj=0.2, ymin=0.1, size=5, tlen=1.5, tpad=1)
for name, pts, c in zip(mountain_names, mountain_points, mountain_colors):
    axE.scatter(pts[:, 0], pts[:, 1], s=15, color=c, lw=0, zorder=3)
axE.set_xlim(-0.461, 0.504)
axE.set_ylim(-0.268, 0.416)
axE.xaxis.set_major_formatter(FormatStrFormatter('%.2f'))
axE.yaxis.set_major_formatter(FormatStrFormatter('%.1f'))
axE.set_xlabel('MDS1', fontsize=6, labelpad=0.5)
axE.text(0.045, 0.045, 'Stress = 0.17', fontsize=8, family='DejaVu Sans',
         transform=axE.transAxes, va='center')

# mountain legend
fig.text(*fpos(603, 664), 'mountain range', fontsize=9, va='center')
for k, (name, c) in enumerate(zip(mountain_names, mountain_colors)):
    yy = 684 + k * 19.1
    fig.add_artist(Line2D([613 / W], [1 - yy / H], transform=fig.transFigure, marker='o',
                          markersize=4.5, color=c, lw=0))
    fig.text(*fpos(629, yy), name, fontsize=7, va='center')

# panel letters
for lab, x, y in [('A', 3, 10), ('B', 440, 9), ('C', 3, 353), ('D', 3, 627), ('E', 331, 628)]:
    fig.text(*fpos(x, y), lab, fontsize=12, fontweight='bold', va='center', ha='left')

fig.savefig('out.png', dpi=100)
